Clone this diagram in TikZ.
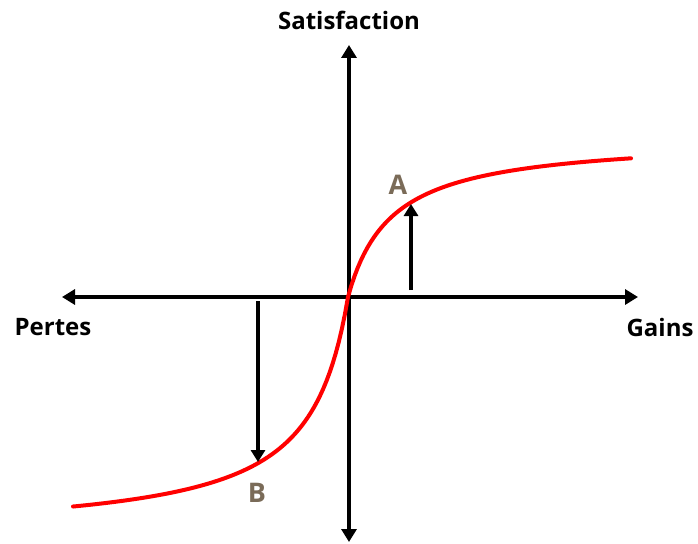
\documentclass[tikz,border=0pt]{standalone}
\usepackage{fontspec}
\setmainfont{Open Sans}
\usetikzlibrary{arrows.meta}
\definecolor{lettre}{RGB}{122,107,88}
\tikzset{
	axe/.style={line width=3.6pt,-{Triangle[width=15pt,length=13pt]}},
	fleche/.style={line width=3.2pt,-{Triangle[width=14pt,length=12pt]}},
	courbe/.style={red,line width=4pt,line cap=round,line join=round},
	titre/.style={font=\bfseries\fontsize{24}{28}\selectfont},
	point/.style={text=lettre,font=\bfseries\fontsize{27}{30}\selectfont}
}
\begin{document}
\begin{tikzpicture}[x=1pt,y=-1pt]
				\useasboundingbox (0,0) rectangle (698,543);
				% axes
				\coordinate (o) at (349,297);
				\coordinate (xg) at (62,297);
				\coordinate (xd) at (638,297);
				\coordinate (yh) at (349,45);
				\coordinate (yb) at (349,542);
				\draw[axe] (o) -- (xg);
				\draw[axe] (o) -- (xd);
				\draw[axe] (o) -- (yh);
				\draw[axe] (o) -- (yb);
				\node[titre] (sat) at (349,20) {Satisfaction};
				\node[titre] (pertes) at (53,327) {Pertes};
				\node[titre] (gains) at (660,327) {Gains};
				% la courbe de valeur (pertes plus fortes que les gains)
				\draw[courbe] plot[domain=275:0,samples=90] ({348-\x},{297+240*(\x/(\x+40))})
					-- plot[domain=0:283,samples=90] ({348+\x},{297-160*(\x/(\x+43.5))});
				% les deux points et leurs fleches
				\coordinate (a) at (411,204);
				\coordinate (a0) at (411,290);
				\coordinate (b) at (258,462);
				\coordinate (b0) at (258,301);
				\draw[fleche] (a0) -- (a);
				\draw[fleche] (b0) -- (b);
				\node[point] (la) at (398,185) {A};
				\node[point] (lb) at (257,493) {B};
			\end{tikzpicture}
\end{document}
